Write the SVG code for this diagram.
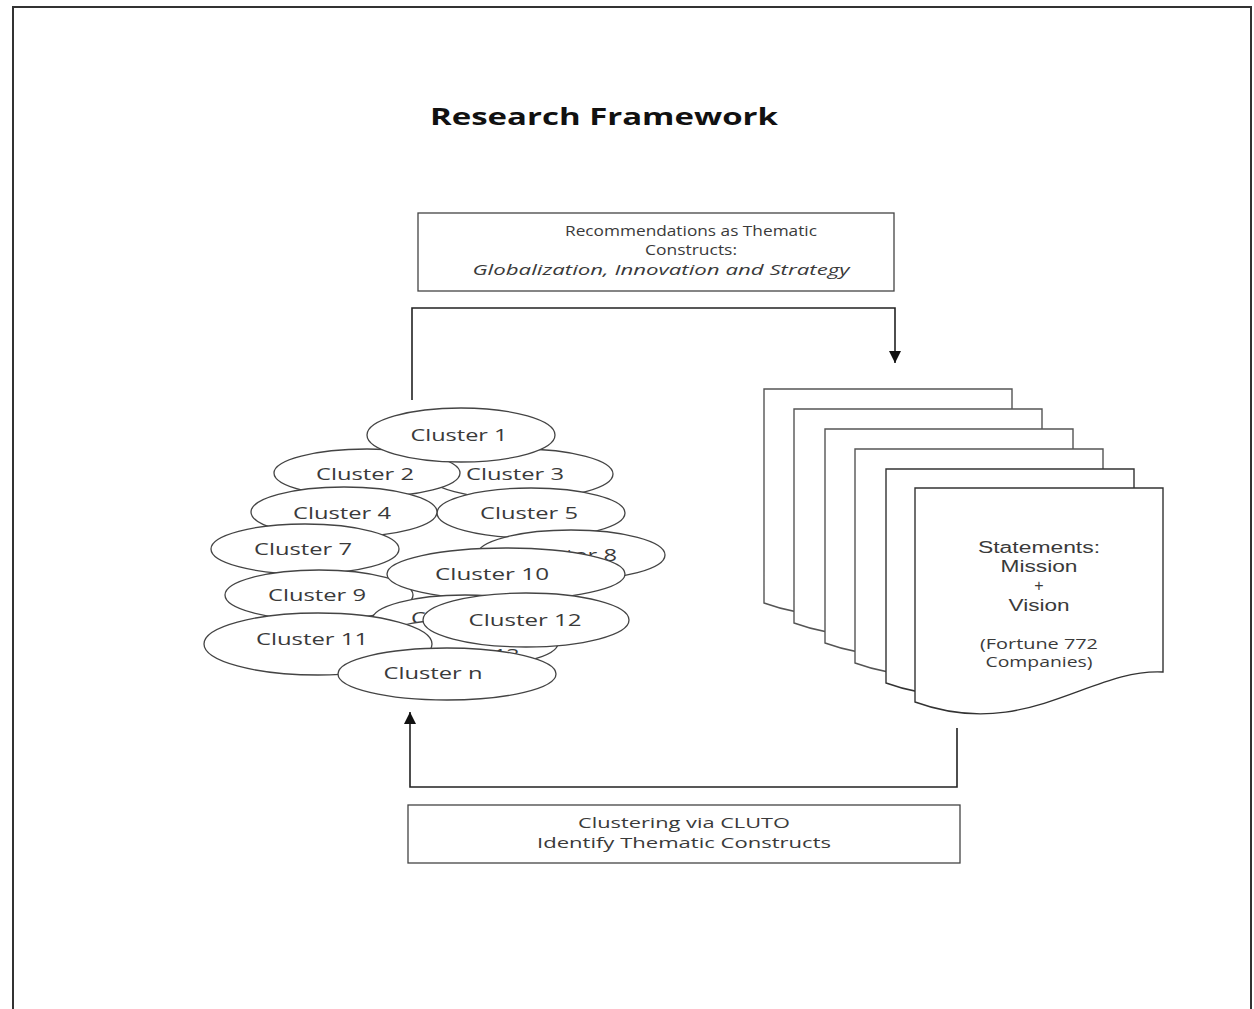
<svg xmlns="http://www.w3.org/2000/svg" xmlns:xlink="http://www.w3.org/1999/xlink" width="1254" height="1009" viewBox="0 0 1254 1009">
<style>
.t{font-family:"Open Sans","Liberation Sans",sans-serif;fill:#3a3a3a;text-anchor:middle;dominant-baseline:central}
.c{font-size:17px}
.s{font-size:15px}
.m{font-family:"Liberation Sans","Open Sans",sans-serif;font-size:16px}
.e{fill:#fff;stroke:#444;stroke-width:1.3}
.d{fill:#fff;stroke:#555;stroke-width:1.4}
.b{fill:#fff;stroke:#444;stroke-width:1.3}
.ln{fill:none;stroke:#222;stroke-width:1.6}
</style>
<defs>
<path id="doc" d="M0,0 H248 V184 C175,180 110,254 0,214 Z"/>
<marker id="ah" markerUnits="userSpaceOnUse" markerWidth="12" markerHeight="12" viewBox="0 0 12 12" refX="12" refY="6" orient="auto">
<path d="M0,0 L12,6 L0,12 Z" fill="#111"/>
</marker>
</defs>
<rect width="1254" height="1009" fill="#fff"/>
<path d="M13,1009 V7 H1251 V1009" fill="none" stroke="#333" stroke-width="2"/>

<text class="t" x="604" y="115" style="font-size:24px;font-weight:bold;fill:#111" textLength="348" lengthAdjust="spacingAndGlyphs">Research Framework</text>

<g id="top-box">
<rect class="b" x="418" y="213" width="476" height="78"/>
<text class="t s" x="691" y="230" textLength="252" lengthAdjust="spacingAndGlyphs">Recommendations as Thematic</text>
<text class="t s" x="691" y="249" textLength="92" lengthAdjust="spacingAndGlyphs">Constructs:</text>
<text class="t s" x="661" y="269" style="font-style:italic" textLength="377" lengthAdjust="spacingAndGlyphs">Globalization, Innovation and Strategy</text>
</g>

<g id="bottom-box">
<rect class="b" x="408" y="805" width="552" height="58"/>
<text class="t s" x="684" y="822" textLength="212" lengthAdjust="spacingAndGlyphs">Clustering via CLUTO</text>
<text class="t s" x="684" y="842" textLength="294" lengthAdjust="spacingAndGlyphs">Identify Thematic Constructs</text>
</g>

<g id="connectors">
<path class="ln" d="M412,400 V308 H895 V363" marker-end="url(#ah)"/>
<path class="ln" d="M957,728 V787 H410 V712" marker-end="url(#ah)"/>
</g>

<g id="documents">
<g id="doc1"><use href="#doc" class="d" x="764" y="389"/></g>
<g id="doc2"><use href="#doc" class="d" x="794" y="409"/></g>
<g id="doc3"><use href="#doc" class="d" x="825" y="429"/></g>
<g id="doc4"><use href="#doc" class="d" x="855" y="449"/></g>
<g id="doc5"><use href="#doc" class="d" x="886" y="469" style="stroke:#333"/></g>
<g id="doc6"><use href="#doc" class="d" x="915" y="488" style="stroke:#333"/>
<text class="t m" x="1039" y="547" textLength="122" lengthAdjust="spacingAndGlyphs">Statements:</text>
<text class="t m" x="1039" y="566" textLength="77" lengthAdjust="spacingAndGlyphs">Mission</text>
<text class="t m" x="1039" y="585">+</text>
<text class="t m" x="1039" y="605" textLength="61" lengthAdjust="spacingAndGlyphs">Vision</text>
<text class="t" x="1039" y="643" style="font-size:14px" textLength="118" lengthAdjust="spacingAndGlyphs">(Fortune 772</text>
<text class="t" x="1039" y="661" style="font-size:14px" textLength="107" lengthAdjust="spacingAndGlyphs">Companies)</text>
</g>
</g>

<g id="clusters">
<g id="cluster3"><ellipse class="e" cx="520" cy="474" rx="93" ry="25"/><text class="t c" x="515" y="473" textLength="98" lengthAdjust="spacingAndGlyphs">Cluster 3</text></g>
<g id="cluster2"><ellipse class="e" cx="367" cy="473" rx="93" ry="24"/><text class="t c" x="365" y="473" textLength="98" lengthAdjust="spacingAndGlyphs">Cluster 2</text></g>
<g id="cluster1"><ellipse class="e" cx="461" cy="435" rx="94" ry="27"/><text class="t c" x="459" y="434" textLength="97" lengthAdjust="spacingAndGlyphs">Cluster 1</text></g>
<g id="cluster5"><ellipse class="e" cx="531" cy="513" rx="94" ry="25"/><text class="t c" x="529" y="512" textLength="98" lengthAdjust="spacingAndGlyphs">Cluster 5</text></g>
<g id="cluster4"><ellipse class="e" cx="344" cy="512" rx="93" ry="25"/><text class="t c" x="342" y="512" textLength="98" lengthAdjust="spacingAndGlyphs">Cluster 4</text></g>
<g id="cluster8"><ellipse class="e" cx="571" cy="555" rx="94" ry="25"/><text class="t c" x="568" y="554" textLength="98" lengthAdjust="spacingAndGlyphs">Cluster 8</text></g>
<g id="cluster7"><ellipse class="e" cx="305" cy="549" rx="94" ry="25"/><text class="t c" x="303" y="548" textLength="98" lengthAdjust="spacingAndGlyphs">Cluster 7</text></g>
<g id="cluster9"><ellipse class="e" cx="319" cy="595" rx="94" ry="25"/><text class="t c" x="317" y="594" textLength="98" lengthAdjust="spacingAndGlyphs">Cluster 9</text></g>
<g id="cluster10"><ellipse class="e" cx="506" cy="574" rx="119" ry="26"/><text class="t c" x="492" y="573" textLength="114" lengthAdjust="spacingAndGlyphs">Cluster 10</text></g>
<g id="cluster6"><ellipse class="e" cx="465" cy="620" rx="93" ry="25"/><text class="t c" x="460" y="617" textLength="98" lengthAdjust="spacingAndGlyphs">Cluster 6</text></g>
<g id="cluster13"><ellipse class="e" cx="465" cy="643" rx="93" ry="24"/><text class="t c" x="466" y="654" textLength="107" lengthAdjust="spacingAndGlyphs">Cluster 13</text></g>
<g id="cluster11"><ellipse class="e" cx="318" cy="644" rx="114" ry="31"/><text class="t c" x="312" y="638" textLength="112" lengthAdjust="spacingAndGlyphs">Cluster 11</text></g>
<g id="cluster12"><ellipse class="e" cx="526" cy="620" rx="103" ry="27"/><text class="t c" x="525" y="619" textLength="113" lengthAdjust="spacingAndGlyphs">Cluster 12</text></g>
<g id="clustern"><ellipse class="e" cx="447" cy="674" rx="109" ry="26"/><text class="t c" x="433" y="672" textLength="99" lengthAdjust="spacingAndGlyphs">Cluster n</text></g>
</g>
</svg>
